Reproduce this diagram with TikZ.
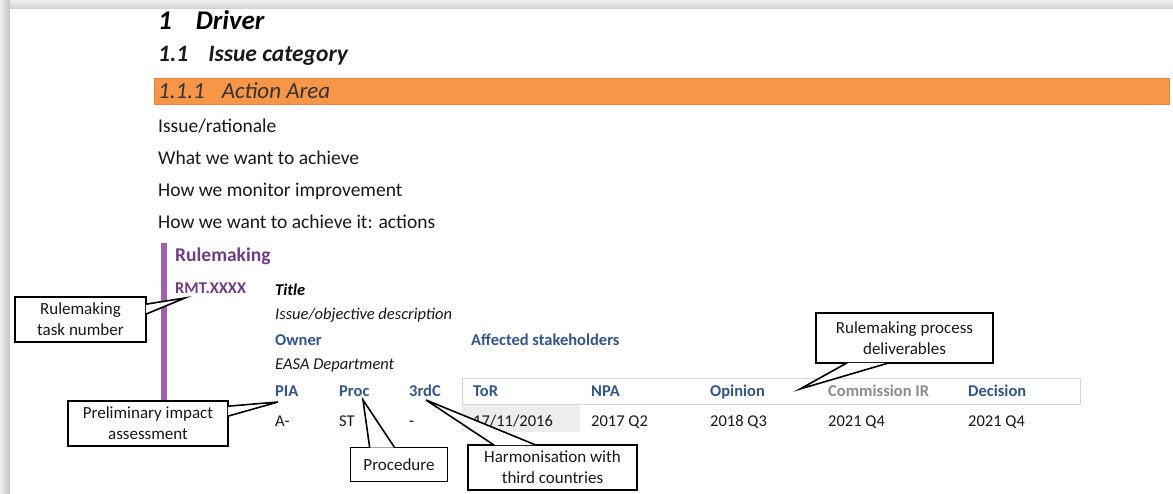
\documentclass[tikz,border=0pt]{standalone}
\usepackage{fontspec}
\setmainfont{Carlito}
\usetikzlibrary{calc}
\definecolor{orangebar}{HTML}{F79646}
\definecolor{orangeedge}{HTML}{E8843E}
\definecolor{purplebar}{HTML}{A35EB2}
\definecolor{purpletext}{HTML}{6F3D86}
\definecolor{bluetext}{HTML}{34558B}
\definecolor{graytext}{HTML}{8C8C8C}
\definecolor{tableedge}{HTML}{D6D6D6}
\definecolor{cellbg}{HTML}{EDEDED}
\definecolor{frameA}{HTML}{C4C4C4}
\definecolor{frameB}{HTML}{EFEFEF}
\tikzset{
  txt/.style={anchor=base west, inner sep=0pt, font=\fontsize{19.5}{23}\selectfont, text=black!90},
  tab/.style={anchor=base west, inner sep=0pt, font=\fontsize{16.5}{20}\selectfont, text=black!90},
  tabhead/.style={tab, font=\fontsize{16.5}{20}\selectfont\bfseries, text=bluetext},
  callbox/.style={draw=black, line width=1.6pt, fill=white, inner sep=0pt, align=center,
    font=\fontsize{17}{21}\selectfont, text=black!90},
  pointer/.style={draw=black, line width=1.6pt, fill=white, line join=miter},
}
\begin{document}
\begin{tikzpicture}[x=1pt,y=-1pt]
% page background and frame shadow
\fill[white] (0,0) rectangle (1173,494);
\useasboundingbox (0,0) rectangle (1173,494);
\shade[top color=frameB, bottom color=frameA!80] (0,0) rectangle (1173,9);
\shade[left color=frameB, right color=frameA] (0,0) rectangle (10,494);
\fill[white] (10,9) rectangle (1173,494);

% headings
\node[txt, font=\fontsize{27}{31}\selectfont\bfseries\itshape, text=black] (h1) at (158,30) {1\hspace{24pt}Driver};
\node[txt, font=\fontsize{23.5}{28}\selectfont\bfseries\itshape, text=black!90] (h2) at (158,62) {1.1\hspace{20pt}Issue category};
\fill[orangebar, draw=orangeedge, line width=0.8pt] (154,78) rectangle (1169,104);
\node[txt, font=\fontsize{23}{27}\selectfont\itshape, text=black!80] (h3) at (158,99) {1.1.1\hspace{17pt}Action Area};

% body lines
\node[txt] (l1) at (158,133) {Issue/rationale};
\node[txt] (l2) at (158,165) {What we want to achieve};
\node[txt] (l3) at (158,197) {How we monitor improvement};
\node[txt] (l4) at (158,229) {How we want to achieve it: actions};

% rulemaking block
\fill[purplebar] (161,243) rectangle (167,405);
\node[txt, font=\fontsize{19.5}{23}\selectfont\bfseries, text=purpletext] (rm) at (175,262) {Rulemaking};
\node[tab, font=\fontsize{16.4}{20}\selectfont\bfseries, text=purpletext] (rmt) at (175,294) {RMT.XXXX};
\node[tab, font=\fontsize{16.5}{20}\selectfont\bfseries\itshape, text=black] (title) at (275,296) {Title};
\node[tab, font=\fontsize{16.5}{20}\selectfont\itshape] (desc) at (275,320) {Issue/objective description};
\node[tabhead] (owner) at (275,345) {Owner};
\node[tabhead] (aff) at (471,345) {Affected stakeholders};
\node[tab, font=\fontsize{16.5}{20}\selectfont\itshape] (dept) at (275,370) {EASA Department};

% table
\draw[tableedge, line width=1pt, fill=white] (462,378) rectangle (1080,404);
\fill[cellbg] (462,405) rectangle (580,432);
\node[tabhead] (pia) at (275,396) {PIA};
\node[tabhead] (proc) at (339,396) {Proc};
\node[tabhead] (thc) at (409,396) {3rdC};
\node[tabhead] (tor) at (473,396) {ToR};
\node[tabhead] (npa) at (591,396) {NPA};
\node[tabhead] (opi) at (710,396) {Opinion};
\node[tabhead, text=graytext] (cir) at (828,396) {Commission IR};
\node[tabhead] (dec) at (968,396) {Decision};
\node[tab] (va) at (275,426) {A-};
\node[tab] (vb) at (339,426) {ST};
\node[tab] (vc) at (409,426) {-};
\node[tab] (vd) at (473,426) {17/11/2016};
\node[tab] (ve) at (591,426) {2017 Q2};
\node[tab] (vf) at (710,426) {2018 Q3};
\node[tab] (vg) at (828,426) {2021 Q4};
\node[tab] (vh) at (968,426) {2021 Q4};

% callout tips
\coordinate (tipA) at (185,298);
\coordinate (tipB) at (278,402);
\coordinate (tipC) at (363,400);
\coordinate (tipD) at (426,400);
\coordinate (tipE) at (800,389);

% callouts
\node[callbox, minimum width=131pt, minimum height=45pt] (cA) at (80.5,319.5) {Rulemaking\\task number};
\filldraw[pointer] ($(cA.north east)+(-1,8)$) -- (tipA) -- ($(cA.north east)+(-1,18)$);

\node[callbox, minimum width=160pt, minimum height=45pt] (cB) at (148,423.5) {Preliminary impact\\assessment};
\filldraw[pointer] ($(cB.north east)+(-1,6)$) -- (tipB) -- ($(cB.north east)+(-1,16)$);

\node[callbox, minimum width=97pt, minimum height=34pt] (cC) at (399,464.5) {Procedure};
\filldraw[pointer] ($(cC.north west)+(20,1)$) -- (tipC) -- ($(cC.north west)+(45,1)$);

\node[callbox, minimum width=169pt, minimum height=45pt] (cD) at (552.5,467.5) {Harmonisation with\\third countries};
\filldraw[pointer] ($(cD.north west)+(27,1)$) -- (tipD) -- ($(cD.north west)+(69,1)$);

\node[callbox, minimum width=177pt, minimum height=50pt] (cE) at (904.5,338) {Rulemaking process\\deliverables};
\filldraw[pointer] ($(cE.south west)+(32,-1)$) -- (tipE) -- ($(cE.south west)+(74,-1)$);
\end{tikzpicture}
\end{document}
